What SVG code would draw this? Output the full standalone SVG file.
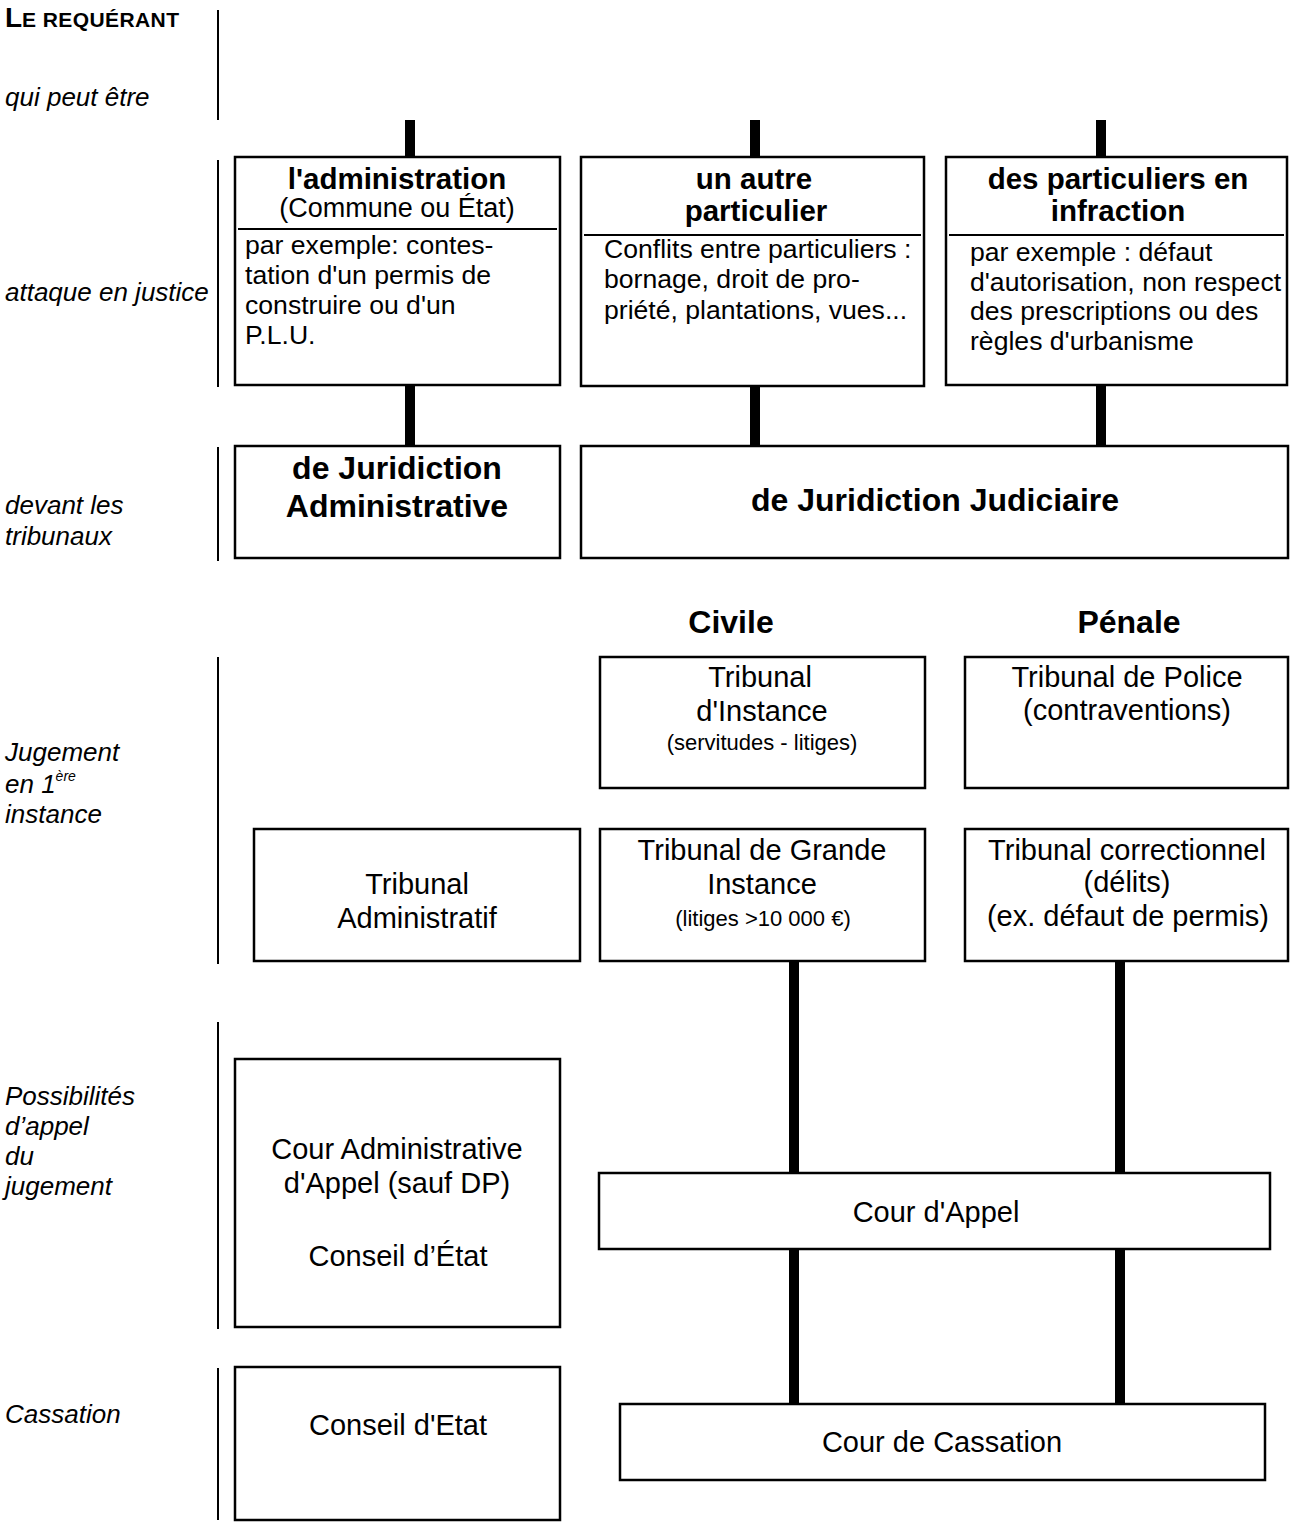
<svg xmlns="http://www.w3.org/2000/svg" width="1290" height="1522" viewBox="0 0 1290 1522">
<style>
text{font-family:"Liberation Sans",Arial,sans-serif;fill:#000}
.box{fill:#fff;stroke:#000;stroke-width:2.5}
.div{stroke:#000;stroke-width:2}
.sep{stroke:#000;stroke-width:2}
.bar{stroke:#000;stroke-width:10}
.lbl{font-size:26px;font-style:italic}
.t{font-size:29.5px;font-weight:bold;text-anchor:middle}
.sub{font-size:27px;text-anchor:middle}
.body{font-size:26.6px}
.b32{font-size:32px;font-weight:bold;text-anchor:middle}
.m{font-size:29px;text-anchor:middle}
.s{font-size:22px;text-anchor:middle}
</style>
<rect width="1290" height="1522" fill="#fff"/>
<g id="labels">
<text x="5" y="27" font-weight="bold"><tspan font-size="28px">L</tspan><tspan font-size="21px" letter-spacing="0.4">E REQUÉRANT</tspan></text>
<text class="lbl" x="5" y="106">qui peut être</text>
<text class="lbl" x="5" y="301">attaque en justice</text>
<text class="lbl" x="5" y="514">devant les</text>
<text class="lbl" x="5" y="545">tribunaux</text>
<text class="lbl" x="5" y="761">Jugement</text>
<text class="lbl" x="5" y="793">en 1<tspan font-size="14px" dy="-12">ère</tspan></text>
<text class="lbl" x="5" y="823">instance</text>
<text class="lbl" x="5" y="1105">Possibilités</text>
<text class="lbl" x="5" y="1135">d’appel</text>
<text class="lbl" x="5" y="1165">du</text>
<text class="lbl" x="5" y="1195">jugement</text>
<text class="lbl" x="5" y="1423">Cassation</text>
<text x="731" y="633" font-size="32px" font-weight="bold" text-anchor="middle">Civile</text>
<text x="1129" y="633" font-size="32px" font-weight="bold" text-anchor="middle">Pénale</text>
</g>
<g id="separators">
<line class="sep" x1="218" y1="10" x2="218" y2="120"/>
<line class="sep" x1="218" y1="160" x2="218" y2="387"/>
<line class="sep" x1="218" y1="447" x2="218" y2="561"/>
<line class="sep" x1="218" y1="657" x2="218" y2="964"/>
<line class="sep" x1="218" y1="1022" x2="218" y2="1329"/>
<line class="sep" x1="218" y1="1368" x2="218" y2="1520"/>
</g>
<g id="connectors">
<line class="bar" x1="410" y1="120" x2="410" y2="157"/>
<line class="bar" x1="755" y1="120" x2="755" y2="157"/>
<line class="bar" x1="1101" y1="120" x2="1101" y2="157"/>
<line class="bar" x1="410" y1="386" x2="410" y2="446"/>
<line class="bar" x1="755" y1="386" x2="755" y2="446"/>
<line class="bar" x1="1101" y1="386" x2="1101" y2="446"/>
<line class="bar" x1="794" y1="962" x2="794" y2="1173"/>
<line class="bar" x1="1120" y1="962" x2="1120" y2="1173"/>
<line class="bar" x1="794" y1="1249" x2="794" y2="1404"/>
<line class="bar" x1="1120" y1="1249" x2="1120" y2="1404"/>
</g>
<g id="administration">
<rect class="box" x="235" y="157" width="325" height="228"/>
<line class="div" x1="238" y1="229" x2="557" y2="229"/>
<text class="t" x="397" y="189">l'administration</text>
<text class="sub" x="397" y="217">(Commune ou État)</text>
<text class="body" x="245" y="254">par exemple: contes-</text>
<text class="body" x="245" y="284">tation d'un permis de</text>
<text class="body" x="245" y="314">construire ou d'un</text>
<text class="body" x="245" y="344">P.L.U.</text>
</g>
<g id="autre-particulier">
<rect class="box" x="581" y="157" width="343" height="229"/>
<line class="div" x1="584" y1="235" x2="921" y2="235"/>
<text class="t" x="754" y="189">un autre</text>
<text class="t" x="756" y="221">particulier</text>
<text class="body" x="604" y="258">Conflits entre particuliers :</text>
<text class="body" x="604" y="288">bornage, droit de pro-</text>
<text class="body" x="604" y="319">priété, plantations, vues...</text>
</g>
<g id="particuliers-infraction">
<rect class="box" x="946" y="157" width="341" height="228"/>
<line class="div" x1="949" y1="235" x2="1284" y2="235"/>
<text class="t" x="1118" y="189">des particuliers en</text>
<text class="t" x="1118" y="221">infraction</text>
<text class="body" x="970" y="261">par exemple : défaut</text>
<text class="body" x="970" y="291">d'autorisation, non respect</text>
<text class="body" x="970" y="320">des prescriptions ou des</text>
<text class="body" x="970" y="350">règles d'urbanisme</text>
</g>
<g id="juridiction-administrative">
<rect class="box" x="235" y="446" width="325" height="112"/>
<text class="b32" x="397" y="479">de Juridiction</text>
<text class="b32" x="397" y="517">Administrative</text>
</g>
<g id="juridiction-judiciaire">
<rect class="box" x="581" y="446" width="707" height="112"/>
<text class="b32" x="935" y="511">de Juridiction Judiciaire</text>
</g>
<g id="tribunal-instance">
<rect class="box" x="600" y="657" width="325" height="131"/>
<text class="m" x="760" y="687">Tribunal</text>
<text class="m" x="762" y="721">d'Instance</text>
<text class="s" x="762" y="750">(servitudes - litiges)</text>
</g>
<g id="tribunal-police">
<rect class="box" x="965" y="657" width="323" height="131"/>
<text class="m" x="1127" y="687">Tribunal de Police</text>
<text class="m" x="1127" y="720">(contraventions)</text>
</g>
<g id="tribunal-administratif">
<rect class="box" x="254" y="829" width="326" height="132"/>
<text class="m" x="417" y="894">Tribunal</text>
<text class="m" x="417" y="928">Administratif</text>
</g>
<g id="tribunal-grande-instance">
<rect class="box" x="600" y="829" width="325" height="132"/>
<text class="m" x="762" y="860">Tribunal de Grande</text>
<text class="m" x="762" y="894">Instance</text>
<text class="s" x="763" y="926" font-size="24px">(litiges &gt;10 000 €)</text>
</g>
<g id="tribunal-correctionnel">
<rect class="box" x="965" y="829" width="323" height="132"/>
<text class="m" x="1127" y="860">Tribunal correctionnel</text>
<text class="m" x="1127" y="892">(délits)</text>
<text class="m" x="1128" y="926">(ex. défaut de permis)</text>
</g>
<g id="cour-administrative-appel">
<rect class="box" x="235" y="1059" width="325" height="268"/>
<text class="m" x="397" y="1159">Cour Administrative</text>
<text class="m" x="397" y="1193">d'Appel (sauf DP)</text>
<text class="m" x="398" y="1266">Conseil d’État</text>
</g>
<g id="cour-appel">
<rect class="box" x="599" y="1173" width="671" height="76"/>
<text class="m" x="936" y="1222">Cour d'Appel</text>
</g>
<g id="conseil-etat">
<rect class="box" x="235" y="1367" width="325" height="153"/>
<text class="m" x="398" y="1435">Conseil d'Etat</text>
</g>
<g id="cour-cassation">
<rect class="box" x="620" y="1404" width="645" height="76"/>
<text class="m" x="942" y="1452">Cour de Cassation</text>
</g>
</svg>
